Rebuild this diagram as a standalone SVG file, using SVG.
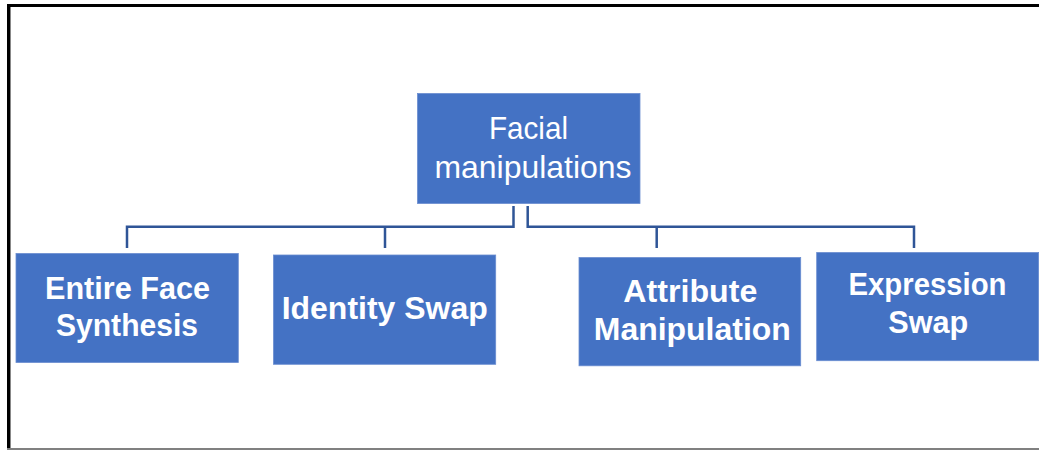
<svg xmlns="http://www.w3.org/2000/svg" width="1039" height="450" viewBox="0 0 1039 450">
<style>
.box{fill:#4472C4;stroke:#6A8DD0;stroke-width:0.8}
.t{font-family:"Liberation Sans",Arial,sans-serif;fill:#FFFFFF;text-anchor:middle}
.b{font-weight:bold;font-size:31px}
.r{font-size:32px}
.c{fill:none;stroke:#2F5597;stroke-width:2.5}
</style>
<rect x="0" y="0" width="1039" height="450" fill="#FFFFFF"/>
<g id="frame">
<rect x="7" y="4" width="1032" height="3" fill="#000000"/>
<rect x="7" y="4" width="3" height="446" fill="#000000"/>
<rect x="10" y="7" width="1" height="441" fill="#888888"/>
<rect x="7" y="448" width="1032" height="2" fill="#808080"/>
</g>
<g id="connectors">
<path class="c" d="M513.5,206 V226.8 H127 V248 M385,226.8 V248"/>
<path class="c" d="M527.7,206 V226.8 H914 V248 M656.7,226.8 V248"/>
</g>
<g id="root">
<rect class="box" x="417.5" y="93.5" width="222.5" height="110"/>
<text class="t r" x="528.5" y="138.5" textLength="79" lengthAdjust="spacingAndGlyphs">Facial</text>
<text class="t r" x="533" y="177.7" textLength="197" lengthAdjust="spacingAndGlyphs">manipulations</text>
</g>
<g id="entire-face">
<rect class="box" x="16" y="253.5" width="222.3" height="109"/>
<text class="t b" x="127.5" y="298.5" textLength="165" lengthAdjust="spacingAndGlyphs">Entire Face</text>
<text class="t b" x="127" y="335.7" textLength="142" lengthAdjust="spacingAndGlyphs">Synthesis</text>
</g>
<g id="identity-swap">
<rect class="box" x="273.5" y="255" width="222.2" height="109.3"/>
<text class="t b" x="384.7" y="318.5" textLength="206" lengthAdjust="spacingAndGlyphs">Identity Swap</text>
</g>
<g id="attribute-manipulation">
<rect class="box" x="579" y="257.5" width="221.7" height="108.3"/>
<text class="t b" x="690.3" y="301.7" textLength="134" lengthAdjust="spacingAndGlyphs">Attribute</text>
<text class="t b" x="692.3" y="340" textLength="197" lengthAdjust="spacingAndGlyphs">Manipulation</text>
</g>
<g id="expression-swap">
<rect class="box" x="816.7" y="252.5" width="222" height="108.2"/>
<text class="t b" x="927.5" y="295" textLength="158" lengthAdjust="spacingAndGlyphs">Expression</text>
<text class="t b" x="928.3" y="333.3" textLength="80" lengthAdjust="spacingAndGlyphs">Swap</text>
</g>
</svg>
